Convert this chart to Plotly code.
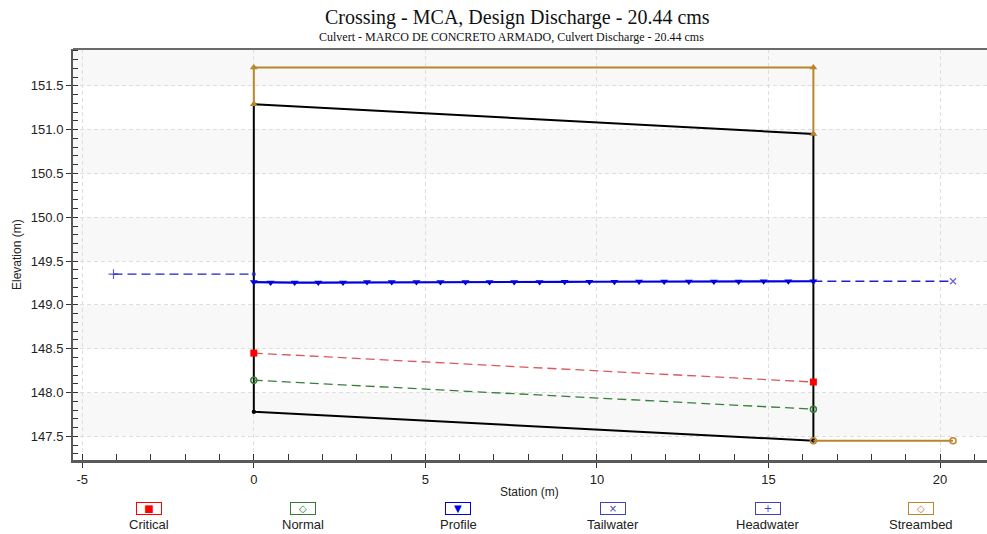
import plotly.graph_objects as go

# ---------------- data ----------------
inlet_sta = 0.0
outlet_sta = 16.31
invert_elev = [147.78, 147.45]          # inlet, outlet
top_elev = [151.29, 150.95]             # inlet, outlet
road_elev = 151.71

critical_elev = [148.45, 148.12]
normal_elev = [148.14, 147.81]

profile_sta = [0.0, 0.49, 1.19, 1.88, 2.60, 3.30, 4.02, 4.74, 5.44, 6.17, 6.87, 7.59,
               8.33, 9.06, 9.78, 10.51, 11.23, 11.96, 12.68, 13.41, 14.13, 14.86, 15.58, 16.31]
profile_elev = [149.26, 149.255, 149.255, 149.255, 149.255, 149.26, 149.26, 149.26, 149.26,
                149.26, 149.262, 149.262, 149.262, 149.263, 149.264, 149.265, 149.266, 149.266,
                149.267, 149.268, 149.268, 149.27, 149.27, 149.27]

headwater_sta = [-4.09, 0.0]
headwater_elev = 149.35
tailwater_sta = [16.31, 20.38]
tailwater_elev = 149.27
streambed_sta = [16.31, 20.38]
streambed_elev = 147.45

legend_names = ["Critical", "Normal", "Profile", "Tailwater", "Headwater", "Streambed"]
legend_symbols = ["■", "◇", "▼", "×", "+", "◇"]
legend_colors = ["#ff0000", "#2e7d32", "#0000e0", "#4040c0", "#4040c0", "#b8862b"]
legend_px = [149, 303, 458, 613, 768, 921]

x_range = [-5.27, 21.37]
x_ticks = [-5, 0, 5, 10, 15, 20]
x_ticklabels = ["-5", "0", "5", "10", "15", "20"]
y_range = [147.23, 151.92]
y_ticks = [147.0, 147.5, 148.0, 148.5, 149.0, 149.5, 150.0, 150.5, 151.0, 151.5, 152.0]

TAN = "#b8862b"
SANS = "Liberation Sans, Arial, sans-serif"
SERIF = "Liberation Serif, Times New Roman, serif"
DASH = "9px,5px"

fig = go.Figure()

# Culvert barrel (black)
fig.add_trace(go.Scatter(
    x=[inlet_sta, inlet_sta, outlet_sta, outlet_sta, inlet_sta],
    y=[invert_elev[0], top_elev[0], top_elev[1], invert_elev[1], invert_elev[0]],
    mode="lines+markers", line=dict(color="black", width=2),
    marker=dict(size=4, color="black"), name="Culvert", showlegend=False))

# Roadway embankment (tan)
fig.add_trace(go.Scatter(
    x=[inlet_sta, inlet_sta, outlet_sta, outlet_sta],
    y=[top_elev[0], road_elev, road_elev, top_elev[1]],
    mode="lines+markers", line=dict(color=TAN, width=2),
    marker=dict(symbol="triangle-up", size=7, color=TAN), name="Roadway", showlegend=False))

# Streambed
fig.add_trace(go.Scatter(
    x=streambed_sta, y=[streambed_elev] * len(streambed_sta),
    mode="lines+markers", line=dict(color=TAN, width=2),
    marker=dict(symbol="circle-open", size=6, color=TAN, line=dict(width=1.5)),
    name="Streambed", showlegend=False))

# Critical
fig.add_trace(go.Scatter(
    x=[inlet_sta, outlet_sta], y=critical_elev, mode="lines+markers",
    line=dict(color="#d85a5a", width=1.3, dash=DASH),
    marker=dict(symbol="square", size=7, color="#ff0000"), name="Critical", showlegend=False))

# Normal
fig.add_trace(go.Scatter(
    x=[inlet_sta, outlet_sta], y=normal_elev, mode="lines+markers",
    line=dict(color="#3a7d3a", width=1.3, dash=DASH),
    marker=dict(symbol="circle-open", size=6, color="#3a7d3a", line=dict(width=1.5)),
    name="Normal", showlegend=False))

# Headwater
fig.add_trace(go.Scatter(
    x=headwater_sta, y=[headwater_elev] * len(headwater_sta), mode="lines+markers",
    line=dict(color="#2020c8", width=1.3, dash=DASH),
    marker=dict(symbol=["cross-thin", "circle"], size=[7, 3], color="#2020c8",
                line=dict(width=1.2, color="#2020c8")),
    name="Headwater", showlegend=False))

# Tailwater
fig.add_trace(go.Scatter(
    x=tailwater_sta, y=[tailwater_elev] * len(tailwater_sta), mode="lines+markers",
    line=dict(color="#2020c8", width=1.3, dash=DASH),
    marker=dict(symbol=["circle", "x-thin"], size=[3, 6], color="#2020c8",
                line=dict(width=1.2, color="#2020c8")),
    name="Tailwater", showlegend=False))

# Profile
fig.add_trace(go.Scatter(
    x=profile_sta, y=profile_elev, mode="lines+markers",
    line=dict(color="#0000e0", width=2.2),
    marker=dict(symbol="triangle-down", size=7, color="#0000e0"),
    name="Profile", showlegend=False))

# Alternating background bands
shapes = []
for i in range(len(y_ticks) - 1):
    if i % 2 == 1:
        shapes.append(dict(type="rect", xref="paper", yref="y", x0=0, x1=1,
                           y0=y_ticks[i], y1=y_ticks[i + 1], fillcolor="#f8f8f8",
                           line=dict(width=0), layer="below"))
# top frame line
shapes.append(dict(type="line", xref="paper", yref="paper", x0=0, x1=1, y0=1, y1=1,
                   line=dict(color="#6a6a6a", width=2)))

L, R, T, B = 73, 0, 49, 74
W, H = 987, 534
pw, ph = W - L - R, H - T - B


def px_x(px):
    return (px - L) / pw


def px_y(py):
    return (H - B - py) / ph


annotations = [
    dict(text="Crossing - MCA, Design Discharge - 20.44 cms", x=px_x(517), y=px_y(17),
         xref="paper", yref="paper", showarrow=False, xanchor="center", yanchor="middle",
         font=dict(family=SERIF, size=20, color="#111")),
    dict(text="Culvert - MARCO DE CONCRETO ARMADO, Culvert Discharge - 20.44 cms",
         x=px_x(511), y=px_y(37), xref="paper", yref="paper", showarrow=False,
         xanchor="center", yanchor="middle", font=dict(family=SERIF, size=12, color="#111")),
    dict(text="Station (m)", x=px_x(529), y=px_y(492), xref="paper", yref="paper",
         showarrow=False, xanchor="center", yanchor="middle",
         font=dict(family=SANS, size=12, color="#222")),
    dict(text="Elevation (m)", x=px_x(17), y=px_y(255), xref="paper", yref="paper",
         showarrow=False, xanchor="center", yanchor="middle", textangle=-90,
         font=dict(family=SANS, size=12, color="#222")),
]

for name, sym, col, px in zip(legend_names, legend_symbols, legend_colors, legend_px):
    annotations.append(dict(
        text=sym, x=px_x(px), y=px_y(508), xref="paper", yref="paper", showarrow=False,
        xanchor="center", yanchor="middle", width=24, height=11, borderpad=0,
        bordercolor=col, borderwidth=1, bgcolor="white",
        font=dict(family="DejaVu Sans", size=10, color=col)))
    annotations.append(dict(
        text=name, x=px_x(px), y=px_y(524), xref="paper", yref="paper", showarrow=False,
        xanchor="center", yanchor="middle", font=dict(family=SANS, size=13, color="#222")))

fig.update_layout(
    width=W, height=H,
    margin=dict(l=L, r=R, t=T, b=B, pad=0),
    paper_bgcolor="white", plot_bgcolor="white",
    showlegend=False,
    shapes=shapes, annotations=annotations,
    xaxis=dict(range=x_range, tickmode="array", tickvals=x_ticks, ticktext=x_ticklabels,
               ticks="outside", ticklen=5,
               tickcolor="#333", tickwidth=1, showline=True, linecolor="#5a5a5a", linewidth=3,
               showgrid=True, gridcolor="#dedede", griddash="4px,3px", gridwidth=1,
               zeroline=False, tickfont=dict(family=SANS, size=13, color="#222"),
               minor=dict(dtick=1, tick0=-5, ticks="inside", ticklen=6, tickcolor="#333",
                          showgrid=False)),
    yaxis=dict(range=y_range, tick0=147.5, dtick=0.5, tickformat=".1f", ticks="outside",
               ticklen=5, tickcolor="#333", showline=True, linecolor="#5a5a5a", linewidth=2,
               showgrid=True, gridcolor="#dedede", griddash="4px,3px", gridwidth=1,
               zeroline=False, tickfont=dict(family=SANS, size=13, color="#222"),
               minor=dict(dtick=0.1, ticks="inside", ticklen=5, tickcolor="#333",
                          showgrid=False)),
)

fig.write_html("out.html")
